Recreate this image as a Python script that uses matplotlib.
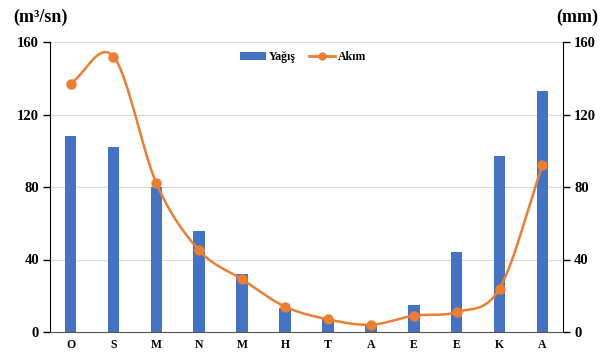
import numpy as np
import matplotlib
matplotlib.use("Agg")
import matplotlib.pyplot as plt
from matplotlib.lines import Line2D
from matplotlib.patches import Patch

months = ["O", "S", "M", "N", "M", "H", "T", "A", "E", "E", "K", "A"]
yagis = [108, 102, 80, 56, 32, 13, 7, 4, 15, 44, 97, 133]
akim = [137, 152, 82, 45, 29, 14, 7, 4, 9, 11, 24, 92]
yticks = [0, 40, 80, 120, 160]

plt.rcParams['font.family'] = ['Liberation Serif', 'DejaVu Serif']
plt.rcParams['font.weight'] = 'bold'

blue = "#4472C4"
orange = "#ED7D31"

fig = plt.figure(figsize=(6.05, 3.54), dpi=100)
ax = fig.add_axes([50/605, 1-332/354, (563-50)/605, (332-42)/354])
ax2 = ax.twinx()

x = np.arange(len(months))
ax2.bar(x, yagis, width=0.27, color=blue, zorder=2)


def catmull_rom(xs, ys, n=30):
    xs = np.asarray(xs, float); ys = np.asarray(ys, float)
    px = np.concatenate([[2*xs[0]-xs[1]], xs, [2*xs[-1]-xs[-2]]])
    py = np.concatenate([[2*ys[0]-ys[1]], ys, [2*ys[-1]-ys[-2]]])
    outx, outy = [], []
    for i in range(1, len(px)-2):
        t = np.linspace(0, 1, n, endpoint=False)
        for p, out in ((px, outx), (py, outy)):
            p0, p1, p2, p3 = p[i-1], p[i], p[i+1], p[i+2]
            out.extend(0.5*((2*p1) + (-p0+p2)*t + (2*p0-5*p1+4*p2-p3)*t**2 + (-p0+3*p1-3*p2+p3)*t**3))
    outx.append(xs[-1]); outy.append(ys[-1])
    return np.array(outx), np.array(outy)

sx, sy = catmull_rom(x, akim)
ax.plot(sx, sy, color=orange, lw=1.8, zorder=3)
ax.plot(x, akim, 'o', color=orange, ms=6.5, zorder=4)

ax.set_zorder(ax2.get_zorder()+1)
ax.patch.set_visible(False)

for a in (ax, ax2):
    a.set_ylim(0, 160)
    a.set_yticks(yticks)
    a.set_xlim(-0.48, len(months)-0.52)
    a.tick_params(axis='y', labelsize=10.5, length=5, width=1, color='black', pad=3)
    a.spines['top'].set_visible(False)
    for lbl in a.get_yticklabels():
        lbl.set_fontweight('bold')

ax2.yaxis.grid(True, color='#d9d9d9', lw=0.8, zorder=0)
ax2.set_axisbelow(True)
ax.spines['left'].set_color('black')
ax2.spines['right'].set_color('black')
ax.spines['bottom'].set_color('#555555')
ax2.spines['bottom'].set_visible(False)
ax2.spines['left'].set_visible(False)
ax.spines['right'].set_visible(False)

ax.set_xticks(x)
ax.set_xticklabels(months, fontsize=8.5, fontweight='bold')
ax.tick_params(axis='x', length=0, pad=5)

fig.text(13/605, 1-17/354, "(m³/sn)", fontsize=13, fontweight='bold', va='center', ha='left')
fig.text(598/605, 1-17/354, "(mm)", fontsize=13, fontweight='bold', va='center', ha='right')

handles = [Patch(facecolor=blue, label='Yağış'),
           Line2D([0], [0], color=orange, lw=2, marker='o', ms=5, label='Akım')]
fig.legend(handles=handles, loc='center', bbox_to_anchor=(303/605, 1-57/354), ncol=2,
           frameon=False, prop={'weight': 'bold', 'size': 8.5}, handlelength=2.2,
           handletextpad=0.2, columnspacing=1.2)

fig.savefig("out.png", dpi=100)
